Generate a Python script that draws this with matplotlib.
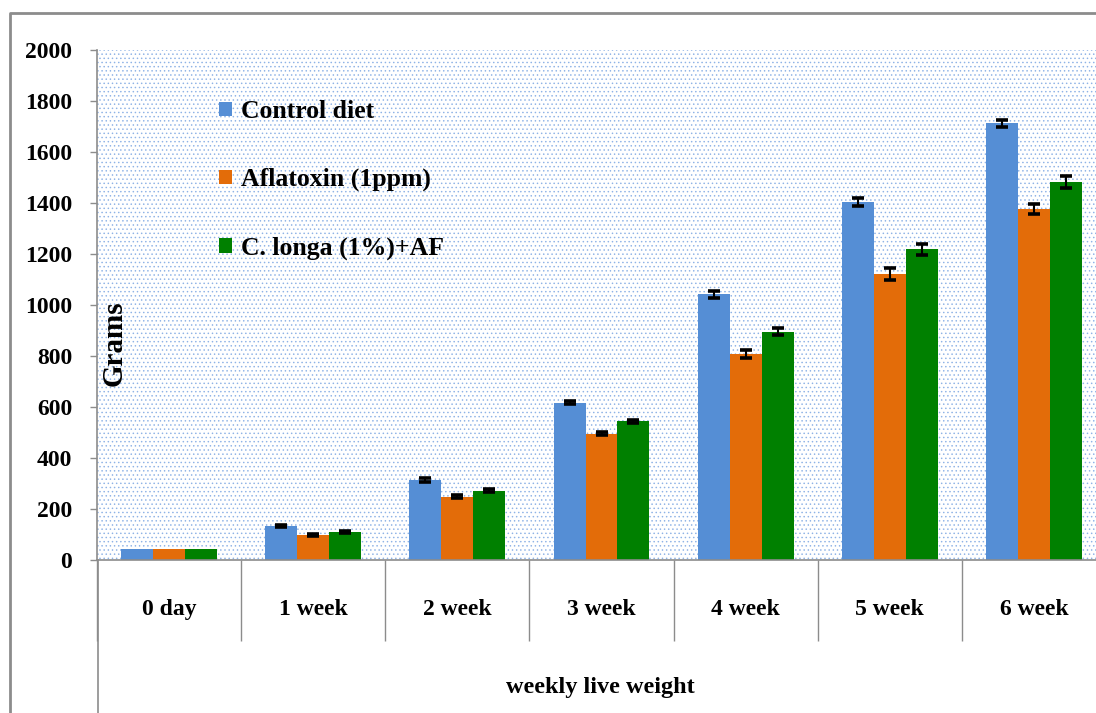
#!/usr/bin/env python3
"""Weekly live weight of birds under three diets (grouped bars with error bars)."""

import matplotlib
matplotlib.use("Agg")
import matplotlib.pyplot as plt
from matplotlib.lines import Line2D
from matplotlib.patches import Patch, Rectangle
import numpy as np

CATEGORIES = ["0 day", "1 week", "2 week", "3 week", "4 week", "5 week", "6 week"]
SERIES = ["Control diet", "Aflatoxin (1ppm)", "C. longa (1%)+AF"]
CONTROL = [42, 134, 314, 616, 1042, 1404, 1712]
AFLATOXIN = [42, 98, 248, 496, 808, 1122, 1378]
CLONGA = [42, 110, 272, 544, 896, 1218, 1482]
CONTROL_ERR = [0, 5, 7, 6, 14, 14, 15]
AFLATOXIN_ERR = [0, 5, 6, 6, 15, 22, 20]
CLONGA_ERR = [0, 5, 6, 6, 14, 20, 22]
COLORS = ["#558ed5", "#e36c09", "#008000"]

W, H = 1096, 713


def fx(px):
    return px / W


def fy(py):
    return 1 - py / H


def main():
    plt.rcParams["font.family"] = ["Liberation Serif", "DejaVu Serif"]
    plt.rcParams["font.weight"] = "bold"
    plt.rcParams["hatch.linewidth"] = 0.55

    fig = plt.figure(figsize=(W / 100, H / 100), dpi=100)
    ax = fig.add_axes([fx(97), fy(560), fx(1106) - fx(97), fy(50) - fy(560)])

    # dotted plot-area fill
    ax.add_patch(Rectangle((0, 0), 1, 1, transform=ax.transAxes,
                           facecolor="white", edgecolor="#8fb3e6",
                           hatch="....", lw=0, zorder=0))

    x = np.arange(len(CATEGORIES))
    width = 0.222
    values = [CONTROL, AFLATOXIN, CLONGA]
    errors = [CONTROL_ERR, AFLATOXIN_ERR, CLONGA_ERR]
    for i, (vals, errs, color) in enumerate(zip(values, errors, COLORS)):
        pos = x + (i - 1) * width
        ax.bar(pos, vals, width, color=color, zorder=2)
        err = np.asarray(errs, dtype=float)
        mask = err > 0
        ax.errorbar(pos[mask], np.asarray(vals)[mask], yerr=err[mask],
                    fmt="none", ecolor="black", elinewidth=1.5,
                    capsize=4.3, capthick=2.6, zorder=3)

    ax.set_xlim(-0.5, len(CATEGORIES) - 0.5)
    ax.set_ylim(0, 2000)
    ax.set_yticks(np.arange(0, 2001, 200))
    ax.tick_params(axis="y", length=5, width=1, color="#8c8c8c",
                   labelsize=17, pad=13)
    ax.set_xticks(x)
    ax.set_xticklabels(CATEGORIES)
    ax.set_xticks(np.arange(-0.5, len(CATEGORIES)), minor=True)
    ax.tick_params(axis="x", which="major", length=0, labelsize=17, pad=28)
    ax.tick_params(axis="x", which="minor", length=58, width=1,
                   color="#8c8c8c")
    for side in ("top", "right"):
        ax.spines[side].set_visible(False)
    for side in ("left", "bottom"):
        ax.spines[side].set_color("#8c8c8c")
        ax.spines[side].set_linewidth(1.2)

    # left axis line continued down and outer chart border
    fig.add_artist(Line2D([fx(97.5), fx(97.5)], [fy(560), 0],
                          transform=fig.transFigure, color="#8c8c8c", lw=1.2))
    fig.add_artist(Line2D([fx(10), fx(10), 1], [0, fy(13), fy(13)],
                          transform=fig.transFigure, color="#8c8c8c", lw=2))

    fig.text(fx(114), fy(343), "Grams", rotation=90, ha="center",
             va="center", fontsize=21, fontweight="bold")
    fig.text(fx(600), fy(688), "weekly live weight", ha="center",
             va="center", fontsize=17.5, fontweight="bold")

    handles = [Patch(facecolor=c, edgecolor="none") for c in COLORS]
    fig.legend(handles, SERIES, loc="upper left",
               bbox_to_anchor=(fx(219), fy(100)), frameon=False,
               fontsize=18.5, handlelength=0.5, handleheight=0.5,
               handletextpad=0.35, labelspacing=1.75, borderpad=0,
               borderaxespad=0)

    fig.savefig("out.png", dpi=100, facecolor="white")
    plt.close(fig)


if __name__ == "__main__":
    main()
